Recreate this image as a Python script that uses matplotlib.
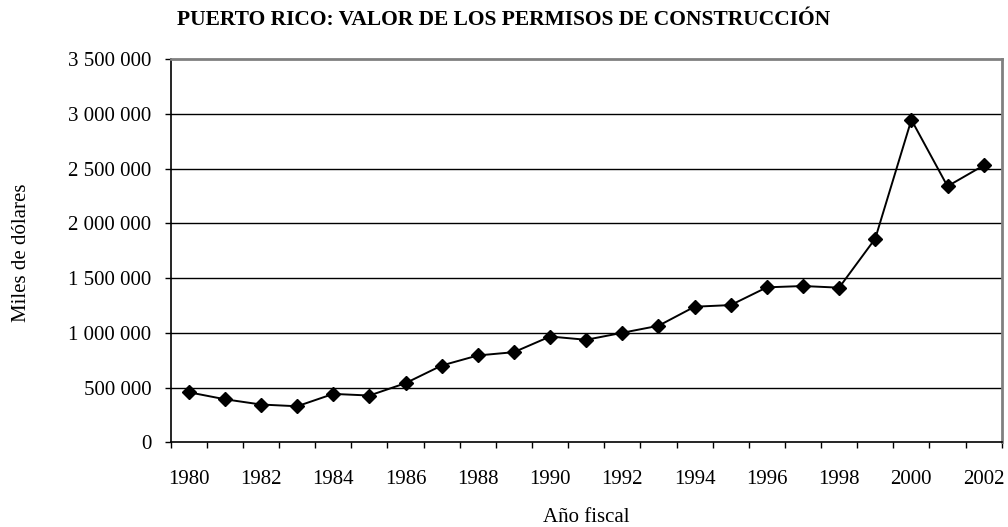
import matplotlib
matplotlib.use("Agg")
import matplotlib.pyplot as plt
from matplotlib.ticker import FuncFormatter, FixedLocator

years = list(range(1980, 2003))
values = [457000, 393000, 345000, 329000, 442000, 427000, 540000, 701000,
          793000, 823000, 966000, 936000, 1000000, 1064000, 1238000, 1253000,
          1415000, 1427000, 1412000, 1860000, 2945000, 2338000, 2528000]
year_labels = [str(y) for y in years[::2]]
y_ticks = [0, 500000, 1000000, 1500000, 2000000, 2500000, 3000000, 3500000]

title = "PUERTO RICO: VALOR DE LOS PERMISOS DE CONSTRUCCIÓN"
xlabel = "Año fiscal"
ylabel = "Miles de dólares"

plt.rcParams['font.family'] = ['Liberation Serif', 'DejaVu Serif']

W, H = 1008, 527
fig = plt.figure(figsize=(W / 100, H / 100), dpi=100)
left, right, top, bottom = 170.7, 1001.7, 59, 442.3
ax = fig.add_axes([left / W, 1 - bottom / H, (right - left) / W, (bottom - top) / H])

x = list(range(len(years)))
ax.plot(x, values, color='black', lw=1.4, marker='D', markersize=7,
        markerfacecolor='black', markeredgecolor='black', zorder=3)

ax.set_xlim(-0.5, len(years) - 0.5)
ax.set_ylim(0, 3500000)

# y axis
ax.set_yticks(y_ticks)
ax.yaxis.set_major_formatter(FuncFormatter(lambda v, p: f"{int(v):,}".replace(",", " ")))
ax.tick_params(axis='y', direction='out', length=4, width=1, pad=10, labelsize=15,
               colors='black')
for yv in y_ticks[1:-1]:
    ax.axhline(yv, color='black', lw=1, zorder=1)

# x axis: ticks at category boundaries, labels at every other category
ax.xaxis.set_major_locator(FixedLocator([i - 0.5 for i in range(len(years) + 1)]))
ax.xaxis.set_major_formatter(FuncFormatter(lambda v, p: ""))
ax.set_xticks(x[::2], labels=year_labels, minor=True)
ax.tick_params(axis='x', which='major', direction='out', length=4.5, width=1, colors='black')
ax.tick_params(axis='x', which='minor', length=0, pad=20, labelsize=15)

for s in ['left', 'bottom']:
    ax.spines[s].set_color('black')
    ax.spines[s].set_linewidth(1.2)
for s in ['top', 'right']:
    ax.spines[s].set_color('#808080')
    ax.spines[s].set_linewidth(2)

fig.text(0.5, 1 - 20 / H, title, ha='center', va='center', fontsize=15.5,
         fontweight='bold')
fig.text((left + right) / 2 / W, 1 - 517 / H, xlabel, ha='center', va='center', fontsize=15)
fig.text(22 / W, 1 - 253 / H, ylabel, ha='center', va='center',
         rotation=90, fontsize=15)

fig.savefig("out.png", dpi=100)
